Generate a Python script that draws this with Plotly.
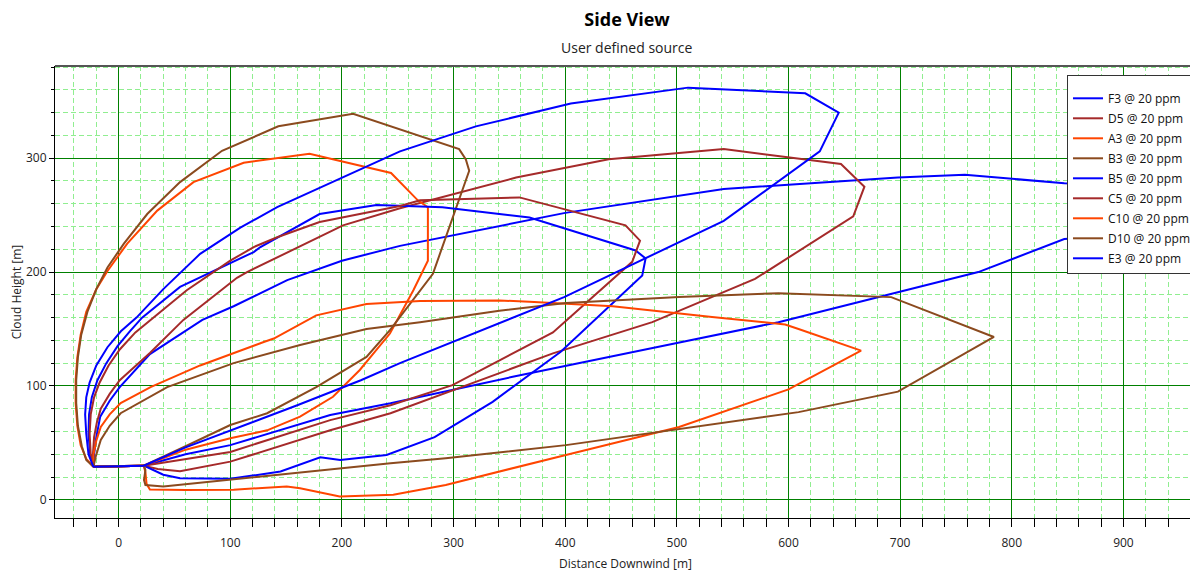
import plotly.graph_objects as go

# ---------------- data (metres) ----------------
series_names = ["F3 @ 20 ppm", "D5 @ 20 ppm", "A3 @ 20 ppm", "B3 @ 20 ppm", "B5 @ 20 ppm",
                "C5 @ 20 ppm", "C10 @ 20 ppm", "D10 @ 20 ppm", "E3 @ 20 ppm"]

F3_x = [-22.6, -22, -20, -16.5, -8, 1, 28, 75, 103, 151, 200, 252, 400, 542, 698, 758, 847, 960, 1010,
        1010, 960, 847, 770, 692, 591, 499, 396, 353, 243.5, 189.5, 100, 60, 22.5, -22.6]
F3_y = [29, 40, 55, 73, 87, 99, 128, 158, 170, 193, 210, 223, 252, 273, 283, 285.5, 278, 274, 262,
        245, 236, 229, 200, 181, 156, 137.5, 117, 108, 84.7, 74.5, 48, 40, 30, 29]

D5_x = [-22.6, -23, -22, -19.5, -16, -8, 1, 28, 58, 106, 115, 142, 201, 252, 356, 439, 542, 647, 668,
        658, 570, 478, 389, 243.5, 189.5, 100, 55, 35, 22.5, -22.6]
D5_y = [29, 40, 55, 68, 80, 93, 105, 129, 158, 195, 200, 213, 241, 256, 283, 299, 308, 295, 275,
        249, 194, 156, 128.6, 76, 61, 33.5, 25, 27, 30, 29]

A3_x = [-22.6, -29, -34, -37, -38.5, -38.5, -37, -34, -29, -20, -10, 7.7, 34.6, 67, 112, 142, 171,
        244, 268, 277, 277, 264, 243, 216, 192, 162.5, 133, 100, 60, 22.5, -22.6]
A3_y = [29, 36, 48, 65, 85, 105, 125, 145, 165, 185, 201, 225, 254, 279, 296, 300, 304,
        287, 263, 257, 210, 184, 146, 114, 90.5, 73, 61, 54, 44, 30, 29]

B3_x = [-22.6, -29, -33, -36.5, -38, -38, -36.5, -33.5, -28, -20, -10, 4.7, 25.6, 55, 92.6, 143, 210,
        305, 311, 314, 281.5, 243, 222, 177, 133, 100, 60, 22.5, -22.6]
B3_y = [29, 35, 47, 65, 85, 105, 125, 145, 165, 185, 204, 225, 251, 279, 306.5, 328, 339,
        308, 299, 289, 198.5, 149, 125.5, 99, 76, 65.7, 47, 30, 29]

B5_x = [-22.6, -25.5, -27, -26.5, -24, -19, -11, -1, 10, 21, 55, 100, 121, 127, 180, 231, 264, 290,
        341, 368, 463, 472, 469, 396, 335, 283, 240, 198.5, 180.6, 145, 100, 55, 40, 22.5, -22.6]
B5_y = [29, 40, 58, 75, 90, 105, 120, 135, 148, 160, 187, 208, 217.6, 222, 251, 259, 258, 257,
        251, 248, 219, 212, 197, 130, 86, 55, 39.4, 35, 37.4, 24.8, 18.4, 19, 22, 30, 29]

C5_x = [-22.6, -25, -26, -25, -22, -17, -9, 1, 15, 29, 61, 100, 121, 142, 180, 252, 270, 359, 454,
        467, 460, 389, 299, 243.5, 189.5, 100, 60, 22.5, -22.6]
C5_y = [29, 40, 58, 75, 90, 103, 118, 132, 147, 158, 184, 210, 222, 230.6, 244, 258, 263, 265.6, 241,
        227.6, 209, 147, 100.7, 83, 70, 42, 36, 30, 29]

C10_x = [-22.6, -22.5, -20, -16, -8, 1.8, 28.6, 73, 130, 139, 177, 222, 270, 341, 368, 442.5, 531.5,
         597, 609, 665, 600, 502, 400.6, 293, 246, 198, 162.5, 150.6, 103, 60, 28, 25, 24, 22.5, -22.6]
C10_y = [29, 40, 52, 64, 75, 85, 99, 118, 138.6, 141.6, 162, 172, 174.5, 175, 174, 170, 160.5,
         154, 150, 131, 97, 64, 39.4, 13, 4.4, 2.9, 10.2, 11.7, 8.8, 8.5, 9, 14, 24, 30, 29]

D10_x = [-22.6, -20.5, -16, -8, 1.8, 43.5, 103, 162.5, 222, 270, 341, 400.6, 502, 591, 692, 784,
         698, 609, 400.6, 293, 243.5, 100, 40, 24, 22.7, 24, 22.5, -22.6]
D10_y = [29, 38, 52.5, 65, 76, 99, 120, 136, 150, 156, 166, 172.8, 178, 181.5, 178, 143,
         95, 77, 48, 36.5, 32, 18, 11.7, 13, 17.5, 26, 30, 29]

E3_x = [-22.6, -27, -29, -30, -29, -26, -20, -10, 2, 16, 40, 73, 109, 142, 180, 252, 320, 405, 510,
        615, 645, 628, 542, 472, 399, 252, 217, 160, 100, 60, 22.5, -22.6]
E3_y = [29, 40, 58, 75, 90, 103, 118, 134, 148, 160, 185, 216, 239, 257, 274, 306, 328, 348, 362,
        357, 340, 306, 245, 212, 178, 120, 105, 83, 61, 46, 30, 29]

series_x = [F3_x, D5_x, A3_x, B3_x, B5_x, C5_x, C10_x, D10_x, E3_x]
series_y = [F3_y, D5_y, A3_y, B3_y, B5_y, C5_y, C10_y, D10_y, E3_y]
series_colors = ["#0000FF", "#A52A2A", "#FF4500", "#8B4A1E", "#0000FF",
                 "#A52A2A", "#FF4500", "#8B4A1E", "#0000FF"]

x_range = [-57, 965]
y_range = [-16, 381]

FONT = "Open Sans, Noto Sans, sans-serif"

# the page body adds an 8px offset, so the figure is drawn 8px smaller
W, H = 1190, 566
ML, MR, MT, MB = 47, 2, 58, 56

fig = go.Figure()
for i, (name, xs, ys, col) in enumerate(zip(series_names, series_x, series_y, series_colors)):
    fig.add_trace(go.Scatter(x=xs, y=ys, mode="lines", name=name, legendgroup="g%d" % i,
                             line=dict(color=col, width=2)))

plot_h = H - MT - MB
fig.update_layout(
    width=W, height=H,
    margin=dict(l=ML, r=MR, t=MT, b=MB, autoexpand=False),
    paper_bgcolor="white", plot_bgcolor="white",
    font=dict(family=FONT, size=12, color="#222"),
    title=dict(text="<b>Side View</b>", x=619 / W, xanchor="center", y=1 - 12 / H,
               yanchor="middle", yref="container", font=dict(size=18, color="#000", family=FONT)),
    showlegend=True,
    legend=dict(x=(1059 - ML) / (W - ML - MR), y=(H - MB - 67) / plot_h, xanchor="left", yanchor="top",
                bgcolor="white", bordercolor="#333", borderwidth=1,
                font=dict(size=12, color="#111", family=FONT),
                itemwidth=30, tracegroupgap=1,
                title=dict(text=" ", font=dict(size=6))),
    annotations=[dict(text="User defined source", xref="paper", yref="paper",
                      x=(619 - ML) / (W - ML - MR),
                      y=(H - MB - 39) / plot_h, xanchor="center", yanchor="middle", showarrow=False,
                      font=dict(size=14, color="#222", family=FONT))],
    shapes=[dict(type="line", xref="paper", yref="paper", x0=0, x1=1, y0=1, y1=1,
                 line=dict(color="#555", width=2))],
)

fig.update_xaxes(
    range=x_range, tick0=0, dtick=100, showgrid=True, gridcolor="#008000", gridwidth=1,
    zeroline=False, showline=True, linecolor="#000", linewidth=1,
    ticks="outside", ticklen=8, tickcolor="#000", ticklabelstandoff=6,
    tickfont=dict(size=12, color="#222"),
    minor=dict(dtick=20, tick0=0, showgrid=True, gridcolor="#90EE90", griddash="5px,3px",
               ticks="outside", ticklen=8, tickcolor="#000"),
    title=dict(text="Distance Downwind [m]", standoff=9, font=dict(size=12, color="#222")),
)
fig.update_yaxes(
    range=y_range, tick0=0, dtick=100, showgrid=True, gridcolor="#008000", gridwidth=1,
    zeroline=False, showline=True, linecolor="#000", linewidth=1,
    ticks="outside", ticklen=5, tickcolor="#000",
    tickfont=dict(size=12, color="#222"),
    minor=dict(dtick=20, tick0=0, showgrid=True, gridcolor="#90EE90", griddash="5px,3px",
               ticks="outside", ticklen=3, tickcolor="#000"),
    title=dict(text="Cloud Height [m]", standoff=2, font=dict(size=12, color="#222")),
)

fig.write_html("out.html")
